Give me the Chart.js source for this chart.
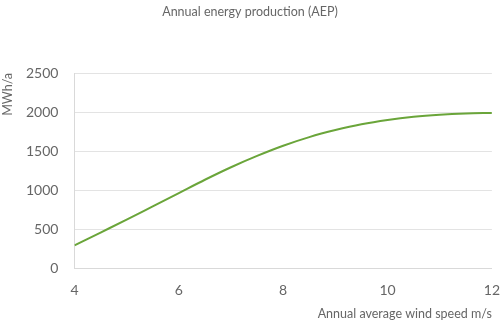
<!DOCTYPE html>
<html>
<head>
<meta charset="utf-8">
<script src="https://cdn.jsdelivr.net/npm/chart.js@4"></script>
<style>
html,body{margin:0;padding:0;background:#fff;}
#wrap{width:500px;height:322px;position:relative;}
</style>
</head>
<body>
<div id="wrap"><canvas id="c"></canvas></div>
<script>
const windSpeed = [4, 4.5, 5, 5.5, 6, 6.5, 7, 7.5, 8, 8.5, 9, 9.5, 10, 10.5, 11, 11.5, 12];
const aep = [295, 460, 625, 795, 965, 1135, 1295, 1440, 1570, 1680, 1770, 1845, 1900, 1940, 1966, 1982, 1990];
const xTicks = [4, 6, 8, 10, 12];
const yTicks = [0, 500, 1000, 1500, 2000, 2500];
const chartTitle = 'Annual energy production (AEP)';
const xTitle = 'Annual average wind speed m/s';
const yTitle = 'MWh/a';

const FONT = 'Lato, "DejaVu Sans", sans-serif';
const TXT = '#666666';

new Chart(document.getElementById('c'), {
  type: 'line',
  data: {
    datasets: [{
      data: windSpeed.map((x, i) => ({x: x, y: aep[i]})),
      borderColor: '#6aa53a',
      borderWidth: 2,
      pointRadius: 0,
      cubicInterpolationMode: 'monotone',
      fill: false
    }]
  },
  options: {
    responsive: true,
    maintainAspectRatio: false,
    animation: false,
    layout: {padding: {left: 0, right: 0, top: 2, bottom: 1}},
    plugins: {
      legend: {display: false},
      tooltip: {enabled: false},
      title: {
        display: true,
        text: chartTitle,
        color: TXT,
        font: {family: FONT, size: 12.5, weight: 'normal'},
        padding: {top: 2, bottom: 54}
      }
    },
    scales: {
      x: {
        type: 'linear',
        min: 4, max: 12,
        afterBuildTicks: (s) => { s.ticks = xTicks.map(v => ({value: v})); },
        grid: {display: false, drawTicks: false},
        border: {display: true, color: '#d9d9d9', width: 1},
        ticks: {color: TXT, font: {family: FONT, size: 14, lineHeight: '44px'}, padding: 0, maxRotation: 0,
                callback: (v) => String(v)},
        title: {display: true, text: xTitle, align: 'end', color: TXT,
                font: {family: FONT, size: 12.5}, padding: {top: -6.5, bottom: 0}}
      },
      y: {
        min: 0, max: 2500,
        afterBuildTicks: (s) => { s.ticks = yTicks.map(v => ({value: v})); },
        grid: {color: '#e3e3e3', drawTicks: false, lineWidth: 1},
        border: {display: true, color: '#d9d9d9', width: 1},
        ticks: {color: TXT, font: {family: FONT, size: 14}, padding: 16,
                callback: (v) => String(v)},
        title: {display: true, text: yTitle, align: 'end', color: TXT,
                font: {family: FONT, size: 12.5}, padding: {top: 0, bottom: -5}}
      }
    }
  }
});
</script>
</body>
</html>
